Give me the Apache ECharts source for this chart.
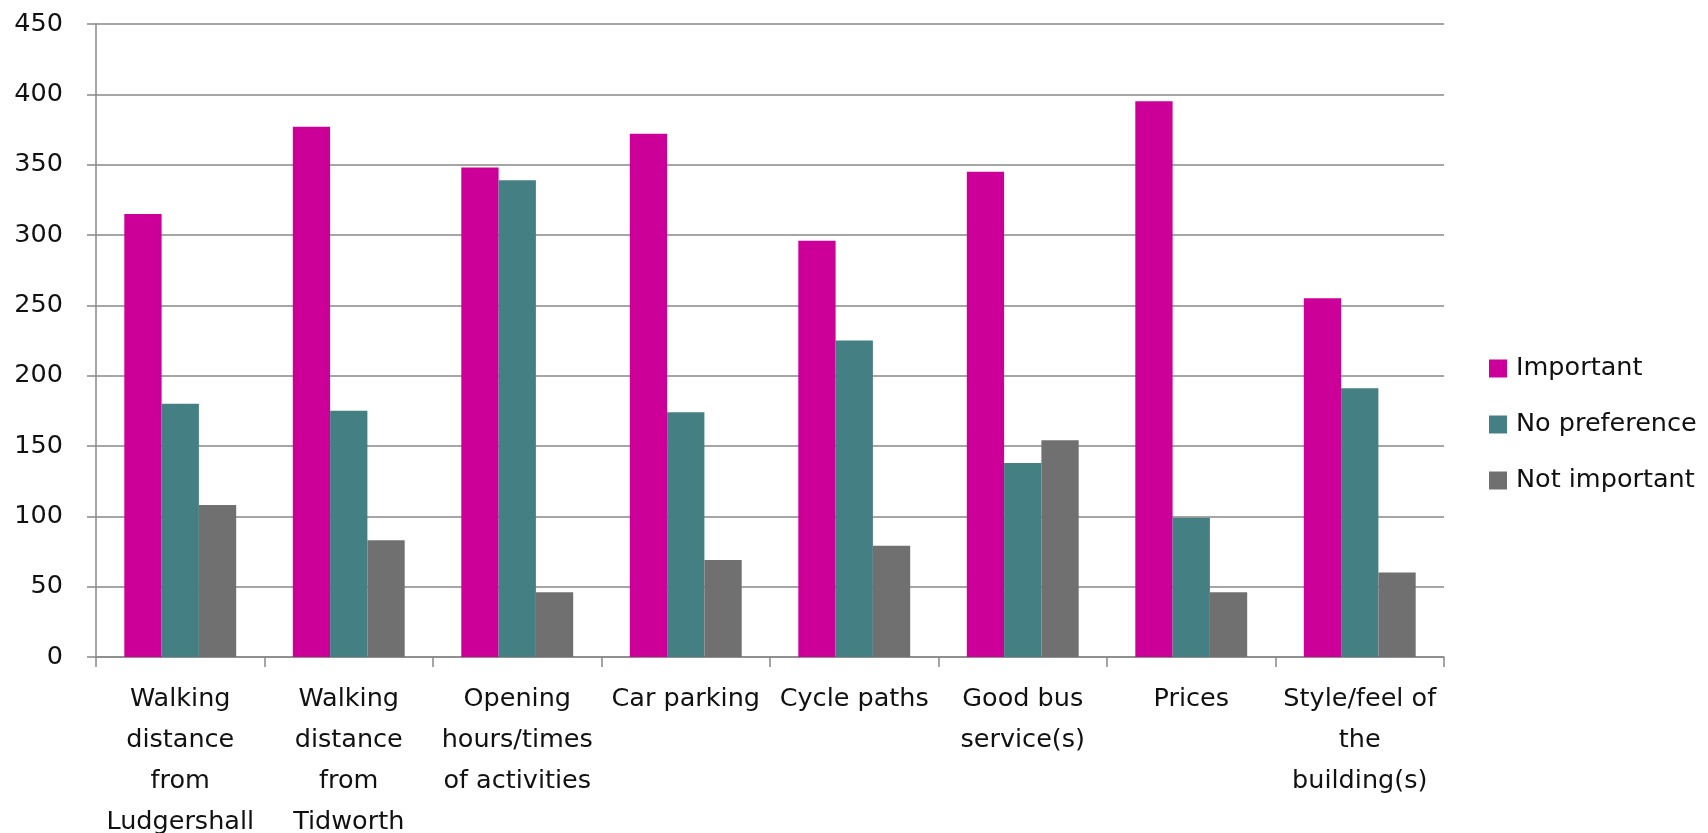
<!DOCTYPE html>
<html>
<head>
<meta charset="utf-8">
<style>
  html, body { margin: 0; padding: 0; background: #ffffff; }
  #chart { width: 1708px; height: 833px; }
</style>
<script src="https://cdn.jsdelivr.net/npm/echarts@6/dist/echarts.min.js"></script>
</head>
<body>
<div id="chart"></div>
<script>
const categories = [
  "Walking\ndistance\nfrom\nLudgershall",
  "Walking\ndistance\nfrom\nTidworth",
  "Opening\nhours/times\nof activities",
  "Car parking",
  "Cycle paths",
  "Good bus\nservice(s)",
  "Prices",
  "Style/feel of\nthe\nbuilding(s)"
];
const seriesNames = ["Important", "No preference", "Not important"];
const important = [315, 377, 348, 372, 296, 345, 395, 255];
const noPreference = [180, 175, 339, 174, 225, 138, 99, 191];
const notImportant = [108, 83, 46, 69, 79, 154, 46, 60];
const yTicks = { min: 0, max: 450, interval: 50 };

const colors = ["#cc0099", "#447f84", "#707070"];
const font = "DejaVu Sans";
const fs = 25.5;
const chart = echarts.init(document.getElementById('chart'));

function barSeries(name, data, color) {
  return {
    name: name,
    type: 'bar',
    data: data,
    barGap: '0%',
    barCategoryGap: '33.6%',
    itemStyle: { color: color },
    emphasis: { disabled: true }
  };
}

chart.setOption({
  animation: false,
  backgroundColor: '#ffffff',
  textStyle: { fontFamily: font },
  grid: { left: 96, right: 264, top: 24, bottom: 176, containLabel: false, outerBoundsMode: 'none' },
  legend: {
    orient: 'vertical',
    left: 1489,
    top: 352.5,
    padding: 0,
    icon: 'rect',
    itemWidth: 18,
    itemHeight: 18,
    itemGap: 24,
    data: seriesNames,
    textStyle: { fontFamily: font, fontSize: fs, color: '#111', lineHeight: 24, padding: [0, 0, 8, 4] }
  },
  xAxis: {
    type: 'category',
    data: categories,
    axisLine: { show: true, lineStyle: { color: '#888888', width: 1.5 } },
    axisTick: { show: true, length: 10, lineStyle: { color: '#888888', width: 1.5 } },
    axisLabel: {
      interval: 0,
      margin: 22,
      fontFamily: font,
      fontSize: fs,
      lineHeight: 41,
      color: '#111',
      align: 'center',
      hideOverlap: false
    }
  },
  yAxis: {
    type: 'value',
    min: yTicks.min,
    max: yTicks.max,
    interval: yTicks.interval,
    axisLine: { show: true, lineStyle: { color: '#888888', width: 1.5 } },
    axisTick: { show: true, length: 9, lineStyle: { color: '#888888', width: 1.5 } },
    splitLine: { show: true, lineStyle: { color: '#888888', width: 1.5 } },
    axisLabel: { margin: 33, fontFamily: font, fontSize: fs, color: '#111' }
  },
  series: [
    barSeries(seriesNames[0], important, colors[0]),
    barSeries(seriesNames[1], noPreference, colors[1]),
    barSeries(seriesNames[2], notImportant, colors[2])
  ]
});
</script>
</body>
</html>
